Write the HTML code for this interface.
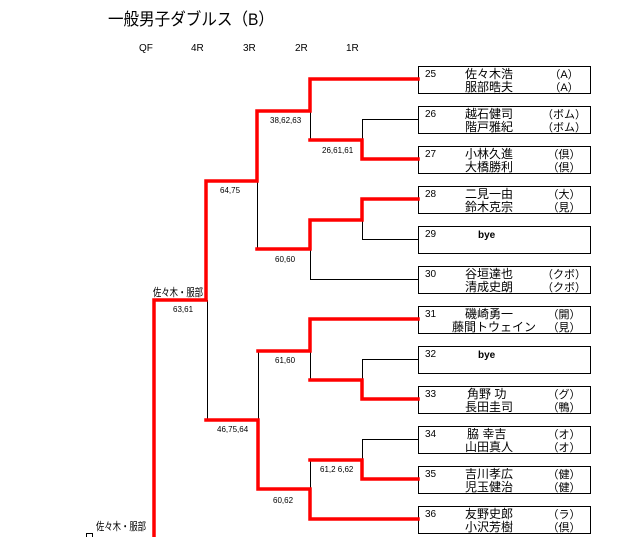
<!DOCTYPE html>
<html><head><meta charset="utf-8"><style>
html,body{margin:0;padding:0;background:#fff;}
svg{display:block;}
text{font-family:"Liberation Sans","Noto Sans CJK JP",sans-serif;fill:#000;}
.n{font-size:10px;}
.nm{font-size:12px;}
.s{font-size:8px;}
.h{font-size:10px;}
.t{font-size:11px;text-anchor:middle;}
</style></head><body>
<svg width="620" height="537" viewBox="0 0 620 537" xmlns="http://www.w3.org/2000/svg">
<text x="108" y="25" style="font-size:17px" textLength="166" lengthAdjust="spacingAndGlyphs">一般男子ダブルス（B）</text>
<text class="h" x="139" y="51">QF</text>
<text class="h" x="191" y="51">4R</text>
<text class="h" x="243" y="51">3R</text>
<text class="h" x="295" y="51">2R</text>
<text class="h" x="346" y="51">1R</text>

<g fill="none" stroke="#000" stroke-width="1">
<rect x="418.5" y="66.5" width="172" height="27"/>
<rect x="418.5" y="106.5" width="172" height="27"/>
<rect x="418.5" y="146.5" width="172" height="27"/>
<rect x="418.5" y="186.5" width="172" height="27"/>
<rect x="418.5" y="226.5" width="172" height="27"/>
<rect x="418.5" y="266.5" width="172" height="27"/>
<rect x="418.5" y="306.5" width="172" height="27"/>
<rect x="418.5" y="346.5" width="172" height="27"/>
<rect x="418.5" y="386.5" width="172" height="27"/>
<rect x="418.5" y="426.5" width="172" height="27"/>
<rect x="418.5" y="466.5" width="172" height="27"/>
<rect x="418.5" y="506.5" width="172" height="27"/>
<rect x="86.5" y="533.5" width="6" height="6"/>
<polyline points="418,119.5 362.5,119.5 362.5,140"/>
<polyline points="310.5,111 310.5,140"/>
<polyline points="418,239.5 362.5,239.5 362.5,220"/>
<polyline points="418,279.5 310.5,279.5 310.5,249"/>
<polyline points="257.5,181 257.5,249"/>
<polyline points="207.5,300 207.5,420"/>
<polyline points="418,359.5 362.5,359.5 362.5,380"/>
<polyline points="310.5,351 310.5,380"/>
<polyline points="258.5,351 258.5,420"/>
<polyline points="418,439.5 362.5,439.5 362.5,460"/>
<polyline points="310.5,460 310.5,489"/>
</g>
<g fill="none" stroke="#f00" stroke-width="3.5" stroke-linejoin="miter" stroke-linecap="square">
<polyline points="418,79 310,79 310,111 257,111 257,181 206,181 206,300 154,300 154,540"/>
<polyline points="418,159 362,159 362,140 310,140"/>
<polyline points="418,199 362,199 362,220 310,220 310,249 257,249"/>
<polyline points="418,319 310,319 310,351 258,351"/>
<polyline points="418,399 362,399 362,380 310,380"/>
<polyline points="206,420 258,420 258,489 310,489 310,519 418,519"/>
<polyline points="418,479 362,479 362,460 310,460"/>
</g>

<text class="s" x="270" y="123">38,62,63</text>
<text class="s" x="322" y="153">26,61,61</text>
<text class="s" x="220" y="193">64,75</text>
<text class="s" x="275" y="262">60,60</text>
<text style="font-size:11px" x="153" y="296" textLength="50" lengthAdjust="spacingAndGlyphs">佐々木・服部</text>
<text class="s" x="173" y="312">63,61</text>
<text class="s" x="275" y="363">61,60</text>
<text class="s" x="217" y="432">46,75,64</text>
<text class="s" x="320" y="472">61,2 6,62</text>
<text class="s" x="273" y="503">60,62</text>
<text style="font-size:11px" x="96" y="530" textLength="50" lengthAdjust="spacingAndGlyphs">佐々木・服部</text>

<g class="nm">
<text class="n" x="425" y="77">25</text><text x="465" y="78">佐々木浩</text><text x="465" y="91">服部晧夫</text><text class="t" x="564" y="78">（A）</text><text class="t" x="564" y="91">（A）</text>
<text class="n" x="425" y="117">26</text><text x="465" y="118">越石健司</text><text x="465" y="131">階戸雅紀</text><text class="t" x="564" y="118">（ボム）</text><text class="t" x="564" y="131">（ボム）</text>
<text class="n" x="425" y="157">27</text><text x="465" y="158">小林久進</text><text x="465" y="171">大橋勝利</text><text class="t" x="564" y="158">（倶）</text><text class="t" x="564" y="171">（倶）</text>
<text class="n" x="425" y="197">28</text><text x="465" y="198">二見一由</text><text x="465" y="211">鈴木克宗</text><text class="t" x="564" y="198">（大）</text><text class="t" x="564" y="211">（見）</text>
<text class="n" x="425" y="237">29</text><text x="478" y="238" style="font-size:10px;font-weight:bold">bye</text>
<text class="n" x="425" y="277">30</text><text x="465" y="278">谷垣達也</text><text x="465" y="291">清成史朗</text><text class="t" x="564" y="278">（クボ）</text><text class="t" x="564" y="291">（クボ）</text>
<text class="n" x="425" y="317">31</text><text x="465" y="318">磯崎勇一</text><text x="452" y="331">藤間トウェイン</text><text class="t" x="564" y="318">（開）</text><text class="t" x="564" y="331">（見）</text>
<text class="n" x="425" y="357">32</text><text x="478" y="358" style="font-size:10px;font-weight:bold">bye</text>
<text class="n" x="425" y="397">33</text><text x="467" y="398">角野 功</text><text x="465" y="411">長田圭司</text><text class="t" x="564" y="398">（グ）</text><text class="t" x="564" y="411">（鴨）</text>
<text class="n" x="425" y="437">34</text><text x="467" y="438">脇 幸吉</text><text x="465" y="451">山田真人</text><text class="t" x="564" y="438">（オ）</text><text class="t" x="564" y="451">（オ）</text>
<text class="n" x="425" y="477">35</text><text x="465" y="478">吉川孝広</text><text x="465" y="491">児玉健治</text><text class="t" x="564" y="478">（健）</text><text class="t" x="564" y="491">（健）</text>
<text class="n" x="425" y="517">36</text><text x="465" y="518">友野史郎</text><text x="465" y="531">小沢芳樹</text><text class="t" x="564" y="518">（ラ）</text><text class="t" x="564" y="531">（倶）</text>
</g>
</svg>
</body></html>
